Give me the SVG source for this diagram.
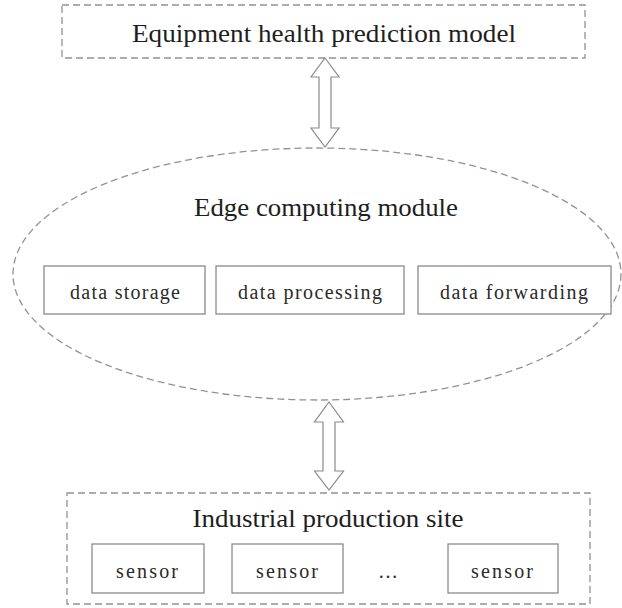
<svg xmlns="http://www.w3.org/2000/svg" width="622" height="608" viewBox="0 0 622 608">
<style>
.dash{fill:none;stroke:#929292;stroke-width:1.3;stroke-dasharray:7,4}
.box{fill:#fff;stroke:#8a8a8a;stroke-width:1.3}
.arr{fill:#fff;stroke:#8a8a8a;stroke-width:1.2;stroke-linejoin:miter}
.big{font-family:"Liberation Serif","Times New Roman",serif;font-size:26px;fill:#1e1e1e;text-anchor:middle}
.small{font-family:"Liberation Serif","Times New Roman",serif;font-size:20px;fill:#2a2a2a;text-anchor:middle}
</style>
<rect width="622" height="608" fill="#fff"/>
<g id="model">
<rect class="dash" x="62" y="5" width="523" height="53"/>
<text class="big" x="324" y="42" textLength="384" lengthAdjust="spacingAndGlyphs">Equipment health prediction model</text>
</g>
<g id="edge">
<ellipse class="dash" cx="317" cy="274" rx="304" ry="126"/>
<text class="big" x="326" y="216" textLength="264" lengthAdjust="spacingAndGlyphs">Edge computing module</text>
</g>
<g id="storage">
<rect class="box" x="44" y="266" width="161" height="48"/>
<text class="small" x="125" y="299" textLength="110" lengthAdjust="spacing">data storage</text>
</g>
<g id="processing">
<rect class="box" x="216" y="266" width="188" height="48"/>
<text class="small" x="310" y="299" textLength="144" lengthAdjust="spacing">data processing</text>
</g>
<g id="forwarding">
<rect class="box" x="418" y="266" width="193" height="48"/>
<text class="small" x="514" y="299" textLength="148" lengthAdjust="spacing">data forwarding</text>
</g>
<g id="site">
<rect class="dash" x="67" y="493" width="523" height="111"/>
<text class="big" x="328" y="527" textLength="271" lengthAdjust="spacingAndGlyphs">Industrial production site</text>
</g>
<g id="sensor1">
<rect class="box" x="92" y="544" width="112" height="49"/>
<text class="small" x="147" y="578" textLength="62" lengthAdjust="spacing">sensor</text>
</g>
<g id="sensor2">
<rect class="box" x="232" y="544" width="111" height="49"/>
<text class="small" x="287" y="578" textLength="62" lengthAdjust="spacing">sensor</text>
</g>
<g id="ellipsis">
<text class="small" x="388" y="578">…</text>
</g>
<g id="sensor3">
<rect class="box" x="448" y="544" width="110" height="49"/>
<text class="small" x="502" y="578" textLength="62" lengthAdjust="spacing">sensor</text>
</g>
<g id="connectors">
<path class="arr" d="M325,58 L339,77 L331,77 L331,128 L339,128 L325,147 L311,128 L319,128 L319,77 L311,77 Z"/>
<path class="arr" d="M329,402 L343.5,422 L335,422 L335,471 L343.5,471 L329,490 L314.5,471 L323,471 L323,422 L314.5,422 Z"/>
</g>
</svg>
